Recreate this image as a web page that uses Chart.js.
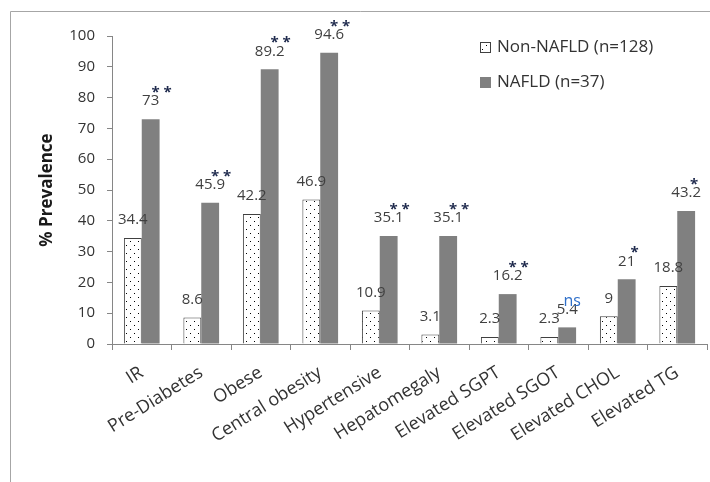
<!DOCTYPE html>
<html>
<head>
<meta charset="utf-8">
<script src="https://cdn.jsdelivr.net/npm/chart.js@4"></script>
<style>
html,body{margin:0;padding:0;background:#fff;}
#wrap{width:710px;height:482px;}
</style>
</head>
<body>
<div id="wrap"><canvas id="c" width="710" height="482"></canvas></div>
<script>
const categories = ['IR','Pre-Diabetes','Obese','Central obesity','Hypertensive','Hepatomegaly','Elevated SGPT','Elevated SGOT','Elevated CHOL','Elevated TG'];
const seriesNames = ['Non-NAFLD (n=128)','NAFLD (n=37)'];
const nonNafld = [34.4, 8.6, 42.2, 46.9, 10.9, 3.1, 2.3, 2.3, 9, 18.8];
const nafld = [73, 45.9, 89.2, 94.6, 35.1, 35.1, 16.2, 5.4, 21, 43.2];
const significance = ['**','**','**','**','**','**','**','ns','*','*'];
const yTicks = [0,10,20,30,40,50,60,70,80,90,100];
const yTitle = '% Prevalence';

const FONT = '"Open Sans", "Liberation Sans", sans-serif';
const canvas = document.getElementById('c');
const ctx = canvas.getContext('2d');

function dotPattern(){
  const t = document.createElement('canvas');
  t.width = 8; t.height = 8;
  const g = t.getContext('2d');
  g.fillStyle = '#ffffff'; g.fillRect(0,0,8,8);
  g.fillStyle = '#000000';
  g.fillRect(2,1,1,1); g.fillRect(6,5,1,1);
  return ctx.createPattern(t,'repeat');
}
const dots = dotPattern();

const framePlugin = {
  id:'frame',
  beforeDraw(chart){
    const c = chart.ctx;
    c.save();
    c.strokeStyle = '#a6a6a6'; c.lineWidth = 1;
    c.beginPath();
    c.moveTo(10.5, 482); c.lineTo(10.5, 11.5); c.lineTo(710, 11.5);
    c.stroke();
    c.restore();
  }
};

const labelPlugin = {
  id:'valueLabels',
  afterDatasetsDraw(chart){
    const c = chart.ctx;
    c.save();
    c.textAlign = 'center';
    chart.data.datasets.forEach((ds, di) => {
      const meta = chart.getDatasetMeta(di);
      meta.data.forEach((el, i) => {
        c.font = '15px ' + FONT;
        c.fillStyle = '#404040';
        c.textBaseline = 'middle';
        c.fillText(String(ds.data[i]), el.x, el.y - 18);
        if (di === 1) {
          const s = significance[i];
          c.textBaseline = 'alphabetic';
          if (s === 'ns') {
            c.font = '16px ' + FONT;
            c.fillStyle = '#2f6fc9';
            c.fillText(s, el.x + 5, el.y - 21);
          } else {
            c.font = 'bold 15px ' + FONT;
            c.fillStyle = '#1f2a4d';
            const n = s.length;
            const cx = el.x + (n === 1 ? 8 : 11);
            for (let k = 0; k < n; k++) {
              c.fillText('*', cx + (k - (n - 1) / 2) * 12, el.y - 22);
            }
          }
        }
      });
    });
    c.restore();
  }
};

const legendPlugin = {
  id:'customLegend',
  afterDraw(chart){
    const c = chart.ctx;
    c.save();
    const rows = [47.5, 82.5];
    chart.data.datasets.forEach((ds, di) => {
      const y = rows[di];
      c.fillStyle = ds.backgroundColor;
      c.fillRect(480, y - 5.5, 11, 11);
      c.strokeStyle = di === 0 ? '#404040' : '#808080';
      c.lineWidth = 1;
      c.strokeRect(480.5, y - 5, 10, 10);
      c.font = '17px ' + FONT;
      c.fillStyle = '#333333';
      c.textAlign = 'left';
      c.textBaseline = 'middle';
      c.fillText(ds.label, 497, y);
    });
    c.restore();
  }
};

new Chart(canvas, {
  type:'bar',
  data:{
    labels: categories,
    datasets:[
      {label: seriesNames[0], data: nonNafld, backgroundColor: dots, borderColor:'#404040', borderWidth:1,
       categoryPercentage:0.6, barPercentage:1.0},
      {label: seriesNames[1], data: nafld, backgroundColor:'#808080', borderColor:'#808080', borderWidth:0,
       categoryPercentage:0.6, barPercentage:1.0}
    ]
  },
  options:{
    responsive:false,
    animation:false,
    devicePixelRatio:1,
    layout:{padding:{top:36,right:3,left:0,bottom:0}},
    plugins:{legend:{display:false}, tooltip:{enabled:false}},
    scales:{
      x:{
        offset:true,
        grid:{offset:true, drawOnChartArea:false, drawTicks:true, tickLength:6, color:'#868686'},
        border:{display:true, color:'#868686', width:1},
        ticks:{autoSkip:false, minRotation:32, maxRotation:32, padding:12,
               font:{family:FONT, size:18}, color:'#333333'},
        afterFit(s){ s.height = 138; s.paddingLeft = 0; s.paddingRight = 0; }
      },
      y:{
        min:0, max:100,
        afterBuildTicks(s){ s.ticks = yTicks.map(v => ({value:v})); },
        grid:{drawOnChartArea:false, drawTicks:true, tickLength:5, color:'#868686'},
        border:{display:true, color:'#868686', width:1},
        ticks:{padding:12, font:{family:FONT, size:15}, color:'#333333'},
        title:{display:true, text:yTitle, font:{family:FONT, size:17, weight:'bold'}, color:'#1a1a1a',
               padding:{top:37, bottom:0}},
        afterFit(s){ s.width = 112; s.paddingTop = 0; s.paddingBottom = 0; }
      }
    }
  },
  plugins:[framePlugin, labelPlugin, legendPlugin]
});
</script>
</body>
</html>
